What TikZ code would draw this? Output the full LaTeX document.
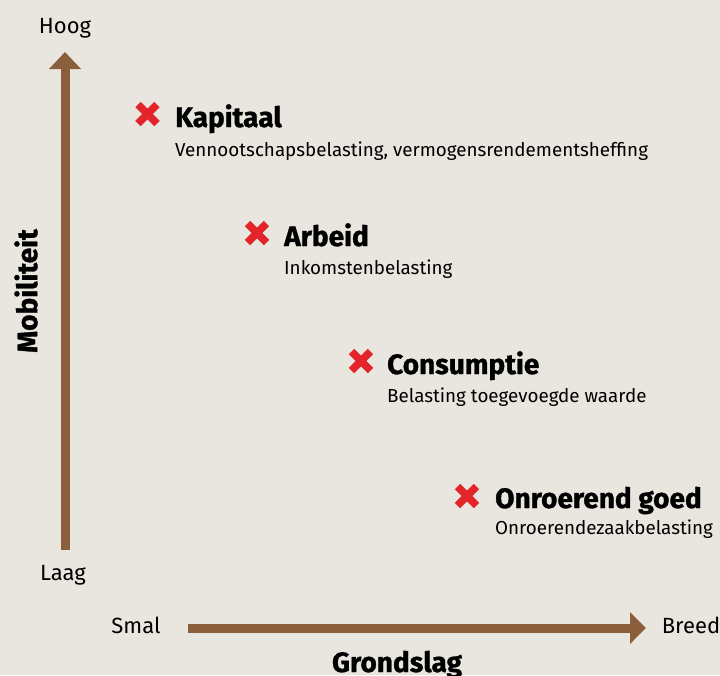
\documentclass[tikz,border=0pt]{standalone}
\usepackage{fontspec}
\setmainfont{Fira Sans}
\newfontfamily\heavyfont{Fira Sans Bold}[FakeBold=1.2]
\usetikzlibrary{arrows.meta,calc}
\definecolor{bg}{HTML}{E8E6DE}
\definecolor{brown}{HTML}{8B5E3C}
\definecolor{xred}{HTML}{E3242B}
\tikzset{
  axis/.style={draw=brown, line width=9pt},
  lbl/.style={font=\fontsize{22}{25}\selectfont, text=black, inner sep=0pt},
  head/.style={font=\fontsize{28}{32}\heavyfont, anchor=base west, inner sep=0pt},
  desc/.style={font=\fontsize{18.8}{22}\selectfont, anchor=base west, inner sep=0pt},
  title/.style={font=\fontsize{28}{32}\heavyfont, inner sep=0pt},
  xmark/.style={draw=xred, line width=7.5pt},
}
\newcommand{\crossmark}[1]{%
  \draw[xmark] ($(#1)+(-9.5,-9.5)$) -- ($(#1)+(9.5,9.5)$);
  \draw[xmark] ($(#1)+(-9.5,9.5)$) -- ($(#1)+(9.5,-9.5)$);}
\begin{document}
\begin{tikzpicture}[x=1pt,y=-1pt]
\fill[bg] (0,0) rectangle (720,675);
\useasboundingbox (0,0) rectangle (720,675);
% axes
\coordinate (vb) at (65,550);
\coordinate (vt) at (65,52);
\coordinate (hl) at (188,628);
\coordinate (hr) at (646,628);
\draw[axis, -{Triangle[width=31pt,length=17pt]}] (vb) -- (vt);
\draw[axis, -{Triangle[width=31pt,length=16pt]}] (hl) -- (hr);
\node[lbl] (hoog) at (65,28) {Hoog};
\node[lbl] (laag) at (63,575) {Laag};
\node[lbl] (smal) at (136,625) {Smal};
\node[lbl] (breed) at (691,625) {Breed};
\node[title, rotate=90] (mob) at (26,291) {Mobiliteit};
\node[title, anchor=base] (grond) at (397,672) {Grondslag};
% items
\coordinate (x1) at (147.5,114);
\coordinate (x2) at (257,233);
\coordinate (x3) at (361,361);
\coordinate (x4) at (467,496);
\crossmark{x1}
\crossmark{x2}
\crossmark{x3}
\crossmark{x4}
\node[head] (h1) at (175,127) {Kapitaal};
\node[desc] (d1) at (175,156) {Vennootschapsbelasting, vermogensrendementsheffing};
\node[head] (h2) at (284,246) {Arbeid};
\node[desc] (d2) at (284,274) {Inkomstenbelasting};
\node[head] (h3) at (387,374) {Consumptie};
\node[desc] (d3) at (387,402) {Belasting toegevoegde waarde};
\node[head] (h4) at (495,508) {Onroerend goed};
\node[desc] (d4) at (495,534) {Onroerendezaakbelasting};
\end{tikzpicture}
\end{document}
